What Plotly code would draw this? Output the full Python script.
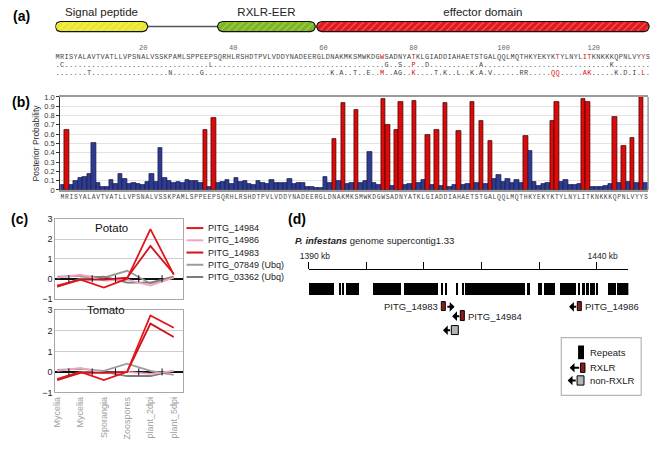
import plotly.graph_objects as go
import numpy as np

W, H = 655, 463
def fx(p): return p / W
def fy(p): return 1 - p / H

# ---------------- data ----------------
sequence = ("MRISYALAVTVATLLVPSNA" "LVSSKPAMLSPPEEPSQRHL" "RSHDTPVLVDDYNADEERGL"
            "DNAKMKSMWKDGWSADNYAT" "KLGIADDIAHAETSTGALQQ" "LMQTHKYEKYKTYLNYLITK" "NKKKQPNLVYYS")
position_marks = [20, 40, 60, 80, 100, 120]
selected_sites = [73, 80, 112, 118, 119, 131]
variant_row2 = {2: "C", 35: "L", 74: "G", 77: "S", 80: "P", 83: "D", 95: "A", 124: "K"}
variant_row3 = {8: "T", 26: "N", 33: "G", 62: "K", 64: "A", 67: "T", 70: "E", 73: "M", 76: "A",
                77: "G", 80: "K", 85: "T", 87: "K", 90: "L", 93: "K", 95: "A", 97: "V", 104: "R",
                105: "R", 111: "Q", 112: "Q", 118: "A", 119: "K", 125: "K", 127: "D", 129: "I", 131: "L"}
red_row2 = [80]
red_row3 = [73, 80, 111, 112, 118, 119, 131]

domain_names = ["Signal peptide", "RXLR-EER", "effector domain"]
domain_start = [0.5, 36.5, 58.5]
domain_end = [21.0, 58.2, 132.3]
domain_colors = ["#ebe82a", "#7db61c", "#e3161c"]

posterior = [
    0.05, 0.65, 0.05, 0.10, 0.13, 0.14, 0.17, 0.50, 0.07, 0.03,
    0.03, 0.11, 0.06, 0.17, 0.12, 0.06, 0.07, 0.06, 0.05, 0.09,
    0.17, 0.09, 0.45, 0.13, 0.10, 0.08, 0.09, 0.07, 0.11, 0.10,
    0.10, 0.07, 0.64, 0.03, 0.77, 0.08, 0.09, 0.11, 0.06, 0.13,
    0.09, 0.10, 0.06, 0.05, 0.10, 0.07, 0.06, 0.11, 0.08, 0.08,
    0.07, 0.12, 0.06, 0.08, 0.08, 0.03, 0.03, 0.02, 0.02, 0.14,
    0.08, 0.55, 0.10, 0.94, 0.06, 0.08, 0.86, 0.07, 0.10, 0.41,
    0.07, 0.05, 0.98, 0.70, 0.04, 0.65, 0.95, 0.05, 0.06, 0.96,
    0.08, 0.11, 0.59, 0.05, 0.64, 0.04, 0.94, 0.03, 0.05, 0.63,
    0.05, 0.06, 0.95, 0.07, 0.74, 0.06, 0.53, 0.12, 0.16, 0.09,
    0.12, 0.08, 0.11, 0.07, 0.58, 0.42, 0.09, 0.04, 0.06, 0.07,
    0.74, 0.95, 0.09, 0.11, 0.05, 0.05, 0.06, 0.98, 0.95, 0.03,
    0.03, 0.03, 0.04, 0.06, 0.79, 0.08, 0.47, 0.09, 0.56, 0.08,
    1.00, 0.08]
red_bars = [2, 33, 35, 62, 64, 67, 73, 74, 76, 77, 80, 83, 85, 87, 90, 93, 95, 97,
            105, 111, 112, 118, 119, 125, 127, 129, 131]
prob_ticks = [0, 0.1, 0.2, 0.3, 0.4, 0.5, 0.6, 0.7, 0.8, 0.9, 1.0]
prob_ticktext = ["0", "0.1", "0.2", "0.3", "0.4", "0.5", "0.6", "0.7", "0.8", "0.9", "1.0"]

stages = ["Mycelia", "Mycelia", "Sporangia", "Zoospores", "plant_2dpi", "plant_5dpi"]
genes_c = ["PITG_14984", "PITG_14986", "PITG_14983", "PITG_07849 (Ubq)", "PITG_03362 (Ubq)"]
gene_colors = ["#e3141b", "#f3a3bf", "#d0121a", "#9c9c9c", "#7c7c7c"]
potato_14984 = [-0.40, -0.05, -0.45, 0.00, 2.50, 0.20]
potato_14986 = [0.05, 0.20, -0.10, -0.05, -0.35, 0.05]
potato_14983 = [-0.35, -0.05, -0.05, 0.05, 1.65, 0.25]
potato_07849 = [0.10, 0.15, 0.05, 0.40, -0.25, 0.05]
potato_03362 = [-0.40, 0.00, 0.10, -0.20, -0.20, 0.10]
tomato_14984 = [-0.35, 0.00, -0.40, 0.00, 2.75, 2.15]
tomato_14986 = [0.05, 0.20, -0.05, 0.00, -0.10, 0.05]
tomato_14983 = [-0.40, -0.05, -0.05, 0.00, 2.35, 1.70]
tomato_07849 = [0.10, 0.15, 0.05, 0.40, 0.05, -0.15]
tomato_03362 = [-0.35, 0.00, 0.00, -0.20, -0.20, 0.05]

repeat_start = [1390.0, 1395.3, 1395.9, 1396.45, 1401.2, 1406.45, 1413.0, 1413.75, 1415.45, 1416.6,
                1417.15, 1427.85, 1429.85, 1430.85, 1433.55, 1436.8, 1437.35, 1438.05, 1438.85,
                1439.85, 1441.85, 1443.55]
repeat_end = [1394.35, 1395.6, 1396.15, 1398.6, 1406.05, 1412.45, 1413.3, 1414.05, 1415.8, 1416.85,
              1427.55, 1428.4, 1430.55, 1432.7, 1436.4, 1437.15, 1437.85, 1438.55, 1439.65,
              1440.25, 1443.25, 1445.5]
gene_names_d = ["PITG_14983", "PITG_14984", "", "PITG_14986"]
gene_type_d = ["RXLR", "RXLR", "non-RXLR", "RXLR"]
gene_box_start = [1413.1, 1416.4, 1414.8, 1436.7]
gene_box_end = [1413.8, 1417.05, 1416.0, 1437.4]
gene_strand = ["+", "-", "-", "-"]
gene_track = [308.5, 318.0, 332.5, 308.5]
scale_ticks = [1390, 1400, 1410, 1420, 1430, 1440]
scale_text = ["1390 kb", "", "", "", "", "1440 kb"]

FONT = "Liberation Sans, Arial, sans-serif"
MONO = "Liberation Mono, DejaVu Sans Mono, monospace"
RED = "#dc0b0b"
BLUE = "#2f3b8e"

fig = go.Figure()

# ---------------- (a) domain diagram ----------------
SX = 603 / 132.0  # px per residue
def capsule(x0, x1, yc, r):
    rx = r / SX
    t = np.linspace(-np.pi / 2, np.pi / 2, 16)
    t2 = np.linspace(np.pi / 2, 3 * np.pi / 2, 16)
    xs = np.concatenate([x1 - rx + rx * np.cos(t), x0 + rx + rx * np.cos(t2)])
    ys = np.concatenate([yc + r * np.sin(t), yc + r * np.sin(t2)])
    return list(xs) + [xs[0]], list(ys) + [ys[0]]

fig.add_trace(go.Scatter(x=[domain_end[0], domain_start[1]], y=[22, 22], mode="lines",
                         line=dict(color="#555", width=1.6), xaxis="x", yaxis="y",
                         showlegend=False, hoverinfo="skip"))
for nm, s, e, c in zip(domain_names, domain_start, domain_end, domain_colors):
    xs, ys = capsule(s, e, 22, 5.2)
    fig.add_trace(go.Scatter(x=xs, y=ys, mode="lines", fill="toself", fillcolor=c,
                             fillpattern=dict(shape="/", bgcolor=c, fgcolor="rgba(255,255,255,0.6)",
                                              size=5, solidity=0.25),
                             line=dict(color="#111", width=1.1), xaxis="x", yaxis="y",
                             showlegend=False, hoverinfo="skip"))
    fig.add_trace(go.Scatter(x=[(s + e) / 2], y=[8], mode="text", text=[nm],
                             textfont=dict(family=FONT, size=11.5, color="#222"),
                             xaxis="x", yaxis="y", showlegend=False, cliponaxis=False, hoverinfo="skip"))

res = list(range(1, len(sequence) + 1))
row1_col = [RED if i in selected_sites else "#444" for i in res]
row2_txt = [variant_row2.get(i, ".") for i in res]
row2_col = [RED if i in red_row2 else "#444" for i in res]
row3_txt = [variant_row3.get(i, ".") for i in res]
row3_col = [RED if i in red_row3 else "#444" for i in res]
for txt, col, yy in [(list(sequence), row1_col, 53), (row2_txt, row2_col, 61.5), (row3_txt, row3_col, 70)]:
    fig.add_trace(go.Scatter(x=res, y=[yy] * len(res), mode="text", text=txt,
                             textfont=dict(family=MONO, size=6.9, color=col),
                             xaxis="x", yaxis="y", showlegend=False, cliponaxis=False, hoverinfo="skip"))
fig.add_trace(go.Scatter(x=position_marks, y=[44] * len(position_marks), mode="text",
                         text=[str(p) for p in position_marks],
                         textfont=dict(family=MONO, size=7, color="#666"),
                         xaxis="x", yaxis="y", showlegend=False, cliponaxis=False, hoverinfo="skip"))

# ---------------- (b) posterior probabilities ----------------
bar_colors = [RED if i in red_bars else BLUE for i in res]
bar_lines = ["#3a0000" if i in red_bars else "#141c50" for i in res]
fig.add_trace(go.Bar(x=res, y=posterior, width=1.0,
                     marker=dict(color=bar_colors, line=dict(color=bar_lines, width=0.7)),
                     xaxis="x2", yaxis="y2", showlegend=False, hoverinfo="skip"))
fig.add_trace(go.Scatter(x=selected_sites, y=[1.055] * len(selected_sites), mode="markers",
                         marker=dict(symbol="star", size=6, color="#333"),
                         xaxis="x2", yaxis="y2", showlegend=False, cliponaxis=False, hoverinfo="skip"))

# ---------------- (c) expression ----------------
potato = [potato_14984, potato_14986, potato_14983, potato_07849, potato_03362]
tomato = [tomato_14984, tomato_14986, tomato_14983, tomato_07849, tomato_03362]
xs_c = list(range(len(stages)))
order = [3, 4, 1, 2, 0]
for data, xa, ya in [(potato, "x3", "y3"), (tomato, "x4", "y4")]:
    for k in order:
        fig.add_trace(go.Scatter(x=xs_c, y=data[k], mode="lines",
                                 line=dict(color=gene_colors[k], width=1.8),
                                 xaxis=xa, yaxis=ya, showlegend=False, hoverinfo="skip"))
    fig.add_trace(go.Scatter(x=[i + 0.5 for i in xs_c[:-1]], y=[0] * (len(xs_c) - 1), mode="markers",
                             marker=dict(symbol="line-ns", size=5, line=dict(color="#111", width=1)),
                             xaxis=xa, yaxis=ya, showlegend=False, hoverinfo="skip"))

# ---------------- (d) genome region ----------------
fig.add_trace(go.Bar(orientation="h", base=repeat_start,
                     x=[e - s for s, e in zip(repeat_start, repeat_end)],
                     y=[290] * len(repeat_start), width=12,
                     marker=dict(color="black", line=dict(width=0)),
                     xaxis="x5", yaxis="y5", showlegend=False, hoverinfo="skip"))
box_cols = ["#8c1c1c" if t == "RXLR" else "#b4b4b4" for t in gene_type_d]
fig.add_trace(go.Bar(orientation="h", base=gene_box_start,
                     x=[e - s for s, e in zip(gene_box_start, gene_box_end)],
                     y=gene_track, width=9.5,
                     marker=dict(color=box_cols, line=dict(color="black", width=1)),
                     xaxis="x5", yaxis="y5", showlegend=False, hoverinfo="skip"))

annotations = []
ARROW_KB = 1.5
for nm, s, e, st, tr in zip(gene_names_d, gene_box_start, gene_box_end, gene_strand, gene_track):
    if st == "+":
        tail, tip = e, e + ARROW_KB
    else:
        tail, tip = s, s - ARROW_KB
    annotations.append(dict(x=tip, y=tr, ax=tail, ay=tr, xref="x5", yref="y5", axref="x5", ayref="y5",
                            text="", showarrow=True, arrowhead=1, arrowsize=0.8, arrowwidth=2,
                            arrowcolor="black"))
    if nm:
        if st == "+":
            annotations.append(dict(x=s - 0.3, y=tr, xref="x5", yref="y5", text=nm, showarrow=False,
                                    xanchor="right", font=dict(family=FONT, size=9.5, color="#222")))
        else:
            annotations.append(dict(x=e + 0.25, y=tr, xref="x5", yref="y5", text=nm, showarrow=False,
                                    xanchor="left", font=dict(family=FONT, size=9.5, color="#222")))

annotations.append(dict(x=fx(453), y=fy(241), xref="paper", yref="paper",
                        text="<b><i>P. infestans</i></b> genome supercontig1.33", showarrow=False,
                        font=dict(family=FONT, size=9.5, color="#222")))

# panel labels
for lab, px, py in [("(a)", 2, 11), ("(b)", 1, 99), ("(c)", 0, 219), ("(d)", 281, 219)]:
    annotations.append(dict(x=fx(px), y=fy(py), xref="paper", yref="paper", text="<b>%s</b>" % lab,
                            showarrow=False, xanchor="left", yanchor="middle",
                            font=dict(family=FONT, size=14, color="black")))

# Potato / Tomato titles
annotations.append(dict(x=0.44, y=fy(228), xref="x3 domain", yref="paper", text="Potato", showarrow=False,
                        font=dict(family=FONT, size=11.5, color="#111")))
annotations.append(dict(x=0.40, y=fy(320), xref="x4 domain", yref="paper", text="Tomato", showarrow=False,
                        font=dict(family=FONT, size=11.5, color="#111")))

shapes = []
# (b) right gray border
shapes.append(dict(type="line", xref="x2 domain", yref="y2 domain", x0=1, x1=1, y0=0, y1=1,
                   line=dict(color="#9a9a9a", width=1.5)))

# (c) legend (manual)
for k, (g, c) in enumerate(zip(genes_c, gene_colors)):
    yy = 228 + 12.5 * k
    shapes.append(dict(type="line", xref="paper", yref="paper", x0=fx(180), x1=fx(197), y0=fy(yy), y1=fy(yy),
                       line=dict(color=c, width=2)))
    annotations.append(dict(x=fx(200), y=fy(yy), xref="paper", yref="paper", text=g, showarrow=False,
                            xanchor="left", yanchor="middle", font=dict(family=FONT, size=9, color="#222")))

# (d) legend (manual)
shapes.append(dict(type="rect", xref="paper", yref="paper", x0=fx(560), x1=fx(641), y0=fy(399), y1=fy(340),
                   line=dict(color="#b5b5b5", width=1.2), fillcolor="rgba(0,0,0,0)"))
shapes.append(dict(type="rect", xref="paper", yref="paper", x0=fx(577), x1=fx(583), y0=fy(362), y1=fy(348),
                   line=dict(width=0), fillcolor="black"))
shapes.append(dict(type="rect", xref="paper", yref="paper", x0=fx(579.5), x1=fx(584), y0=fy(375.5), y1=fy(366),
                   line=dict(color="black", width=1), fillcolor="#8c1c1c"))
shapes.append(dict(type="rect", xref="paper", yref="paper", x0=fx(576), x1=fx(583), y0=fy(388.5), y1=fy(379),
                   line=dict(color="black", width=1), fillcolor="#b4b4b4"))
for tipx, tail, yy in [(568.5, 579.5, 370.8), (566.5, 576, 383.8)]:
    annotations.append(dict(x=fx(tipx), y=fy(yy), xref="paper", yref="paper", ax=tail - tipx, ay=0,
                            axref="pixel", ayref="pixel", text="", showarrow=True, arrowhead=1,
                            arrowsize=0.8, arrowwidth=2, arrowcolor="black"))
for t, yy in [("Repeats", 355), ("RXLR", 371), ("non-RXLR", 384)]:
    annotations.append(dict(x=fx(587), y=fy(yy), xref="paper", yref="paper", text=t, showarrow=False,
                            xanchor="left", yanchor="middle", font=dict(family=FONT, size=9.5, color="#222")))

fig.update_layout(
    width=W, height=H, margin=dict(l=0, r=0, t=0, b=0),
    paper_bgcolor="white", plot_bgcolor="rgba(0,0,0,0)",
    font=dict(family=FONT, color="#222"),
    barmode="overlay", bargap=0, showlegend=False,
    annotations=annotations, shapes=shapes,
    # (a)
    xaxis=dict(domain=[fx(47), fx(650)], range=[0.5, 132.5], visible=False, anchor="y"),
    yaxis=dict(domain=[fy(78), fy(0)], range=[78, 0], visible=False, anchor="x"),
    # (b)
    xaxis2=dict(domain=[fx(52), fx(648)], range=[0.5, 132.5], anchor="y2", tickmode="array",
                tickvals=res, ticktext=list(sequence), tickangle=0,
                tickfont=dict(family=MONO, size=6.4, color="#444"), ticks="",
                showline=True, linecolor="#9a9a9a", linewidth=1.5, mirror=True, showgrid=False,
                zeroline=False),
    yaxis2=dict(domain=[fy(189), fy(94)], range=[0, 1], anchor="x2", tickmode="array",
                tickvals=prob_ticks, ticktext=prob_ticktext,
                tickfont=dict(family=FONT, size=7.5, color="#333"), ticks="outside", ticklen=3,
                tickcolor="#333", showline=True, linecolor="#333", linewidth=1,
                gridcolor="#e2e2e2", zeroline=False,
                title=dict(text="Posterior Probability", font=dict(family=FONT, size=8.5, color="#333"),
                           standoff=3)),
    # (c) potato
    xaxis3=dict(domain=[fx(47), fx(176)], range=[-0.08, 5.38], anchor="y3", showticklabels=False,
                ticks="", showline=True, mirror=True, linecolor="#a8a8a8", showgrid=False, zeroline=False),
    yaxis3=dict(domain=[fy(300), fy(219)], range=[-1, 3], anchor="x3", tickvals=[-1, 0, 1, 2, 3],
                tickfont=dict(family=FONT, size=9, color="#222"), ticks="", showline=True, mirror=True,
                linecolor="#a8a8a8", gridcolor="#cdcdcd", zeroline=True, zerolinecolor="#111",
                zerolinewidth=1.5),
    # (c) tomato
    xaxis4=dict(domain=[fx(47), fx(176)], range=[-0.08, 5.38], anchor="y4", tickmode="array",
                tickvals=xs_c, ticktext=stages, tickangle=-90,
                tickfont=dict(family=FONT, size=9, color="#a0a0a0"),
                ticks="", showline=True, mirror=True, linecolor="#a8a8a8", showgrid=False, zeroline=False),
    yaxis4=dict(domain=[fy(396), fy(312)], range=[-1, 3], anchor="x4", tickvals=[-1, 0, 1, 2, 3],
                tickfont=dict(family=FONT, size=9, color="#222"), ticks="", showline=True, mirror=True,
                linecolor="#a8a8a8", gridcolor="#cdcdcd", zeroline=True, zerolinecolor="#111",
                zerolinewidth=1.5),
    # (d)
    xaxis5=dict(domain=[fx(304), fx(628)], range=[1390, 1445.5], anchor="free", position=fy(270),
                side="top", tickmode="array", tickvals=scale_ticks, ticktext=scale_text,
                ticks="outside", ticklen=7, tickwidth=1.3, tickcolor="black",
                showline=True, linecolor="black", linewidth=1.3, showgrid=False, zeroline=False,
                tickfont=dict(family=FONT, size=8.5, color="#222"), ticklabelshift=6),
    yaxis5=dict(domain=[fy(345), fy(275)], range=[345, 275], anchor="x5", visible=False),
)

fig.write_html("out.html", config={"displayModeBar": False},
               post_script="document.body.style.margin='0';document.body.style.overflow='hidden';")
